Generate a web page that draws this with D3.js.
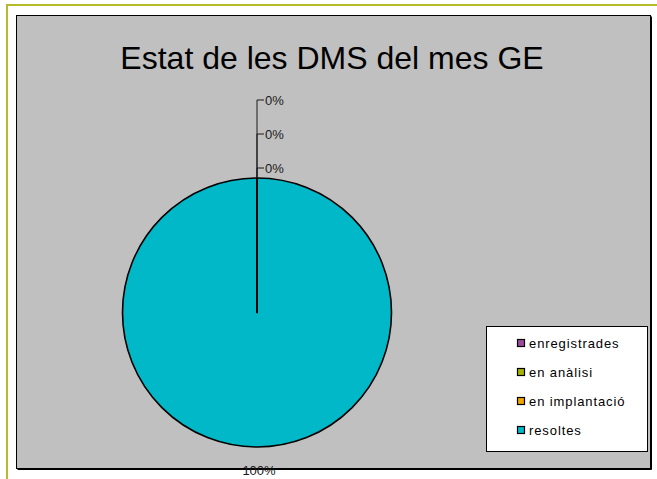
<!DOCTYPE html>
<html>
<head>
<meta charset="utf-8">
<script src="https://cdn.jsdelivr.net/npm/d3@7"></script>
<style>
  html, body { margin: 0; padding: 0; background: #ffffff; }
  svg { display: block; }
  text { font-family: "Liberation Sans", Arial, sans-serif; }
</style>
</head>
<body>
<script>
// Status of the DMS for the month (GE)
const title = "Estat de les DMS del mes GE";
const categories = ["enregistrades", "en anàlisi", "en implantació", "resoltes"];
const values = [0, 0, 0, 100];
const colors = ["#9C4A9C", "#A4B400", "#F0A500", "#00B8C7"];

const W = 657, H = 479;
const svg = d3.select("body").append("svg").attr("width", W).attr("height", H);

// outer frame (olive rule on top and left)
svg.append("rect").attr("x", 6).attr("y", 4).attr("width", W - 6).attr("height", 2).attr("fill", "#B6BB2C");
svg.append("rect").attr("x", 6).attr("y", 4).attr("width", 2).attr("height", H - 4).attr("fill", "#B6BB2C");

// chart area
const area = { x: 16.5, y: 15.5, w: 634, h: 453 };
svg.append("rect").attr("x", area.x).attr("y", area.y).attr("width", area.w).attr("height", area.h)
  .attr("fill", "#C0C0C0").attr("stroke", "#000").attr("stroke-width", 1);
// right / bottom shadow
svg.append("line").attr("x1", area.x + area.w + 1).attr("x2", area.x + area.w + 1)
  .attr("y1", area.y + 1).attr("y2", area.y + area.h + 1).attr("stroke", "#000").attr("stroke-width", 1);
svg.append("line").attr("x1", area.x + 1).attr("x2", area.x + area.w + 1)
  .attr("y1", area.y + area.h + 1).attr("y2", area.y + area.h + 1).attr("stroke", "#000").attr("stroke-width", 1);

// title
svg.append("text").attr("x", 332).attr("y", 69).attr("text-anchor", "middle")
  .attr("font-size", 32).attr("fill", "#000").text(title);

// pie
const cx = 257, cy = 312.5, r = 134.5;
const total = d3.sum(values);
const pie = d3.pie().sort(null).value(d => d.v);
const arcs = pie(categories.map((c, i) => ({ c, v: values[i], color: colors[i] })));
const arc = d3.arc().innerRadius(0).outerRadius(r);

const g = svg.append("g").attr("transform", `translate(${cx},${cy})`);
// draw the full slice first, then the zero-width ones (they render as radial edges)
const order = arcs.slice().sort((a, b) => (b.endAngle - b.startAngle) - (a.endAngle - a.startAngle));
g.selectAll("path.slice").data(order).join("path").attr("class", "slice")
  .attr("d", arc).attr("fill", d => d.data.color)
  .attr("stroke", "#000").attr("stroke-width", 1.6).attr("stroke-linejoin", "round");

// labels
const pct = d => Math.round(d.data.v / total * 100) + "%";
const zero = arcs.filter(d => d.endAngle - d.startAngle < 1e-6);
const big = arcs.filter(d => d.endAngle - d.startAngle >= 1e-6);

// stacked labels for empty slices with a leader
const step = 34, gap = 10;
zero.forEach((d, i) => {
  const a = (d.startAngle + d.endAngle) / 2;
  const x0 = Math.sin(a) * r, y0 = -Math.cos(a) * r;
  const ly = y0 - gap - (zero.length - 1 - i) * step;
  g.append("line").attr("x1", x0).attr("x2", x0).attr("y1", y0).attr("y2", ly)
    .attr("stroke", "#1a1a1a").attr("stroke-width", 1);
  g.append("line").attr("x1", x0).attr("x2", x0 + 7).attr("y1", ly).attr("y2", ly)
    .attr("stroke", "#1a1a1a").attr("stroke-width", 1);
  g.append("text").attr("x", x0 + 8).attr("y", ly).attr("dy", "0.35em")
    .attr("font-size", 13).attr("fill", "#1a1a1a").text(pct(d));
});
big.forEach(d => {
  const a = (d.startAngle + d.endAngle) / 2;
  const rr = r + 23;
  g.append("text").attr("x", Math.sin(a) * rr + 2).attr("y", -Math.cos(a) * rr).attr("dy", "0.35em")
    .attr("text-anchor", "middle").attr("font-size", 13).attr("fill", "#1a1a1a").text(pct(d));
});

// legend
const lg = svg.append("g");
lg.append("rect").attr("x", 486.5).attr("y", 326.5).attr("width", 161).attr("height", 125)
  .attr("fill", "#fff").attr("stroke", "#000").attr("stroke-width", 1);
const rowY = d3.scalePoint().domain(categories).range([343, 430]);
categories.forEach((c, i) => {
  const y = rowY(c);
  lg.append("rect").attr("x", 517.5).attr("y", y - 3.5).attr("width", 7).attr("height", 7)
    .attr("fill", colors[i]).attr("stroke", "#000").attr("stroke-width", 1.2);
  lg.append("text").attr("x", 529).attr("y", y).attr("dy", "0.35em")
    .attr("font-size", 13).attr("letter-spacing", 0.9).attr("fill", "#000").text(c);
});
</script>
</body>
</html>
